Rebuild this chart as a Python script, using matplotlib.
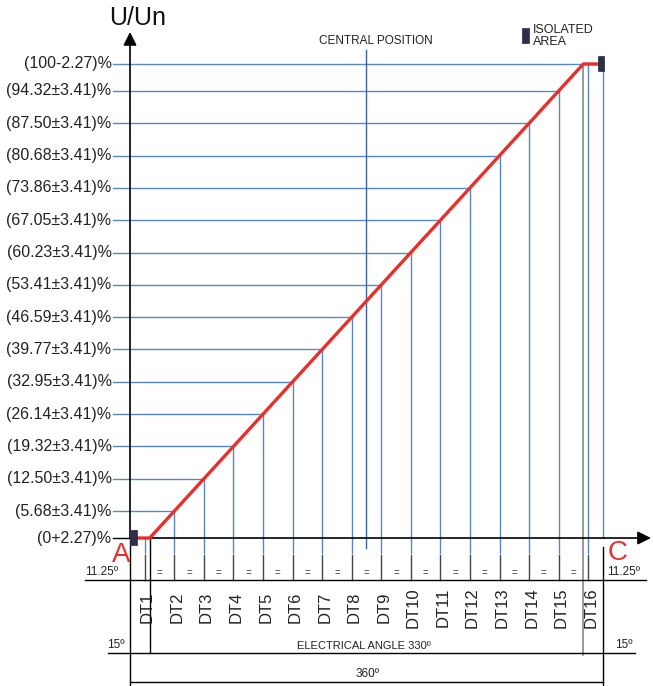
import matplotlib
matplotlib.use('Agg')
import matplotlib.pyplot as plt
import matplotlib.patches as patches

plt.rcParams['font.family'] = ['Liberation Sans', 'DejaVu Sans']

# data
level_values = [0, 5.68, 12.50, 19.32, 26.14, 32.95, 39.77, 46.59, 53.41,
                60.23, 67.05, 73.86, 80.68, 87.50, 94.32, 100]
level_labels = ['(0+2.27)%', '(5.68±3.41)%', '(12.50±3.41)%', '(19.32±3.41)%',
                '(26.14±3.41)%', '(32.95±3.41)%', '(39.77±3.41)%', '(46.59±3.41)%',
                '(53.41±3.41)%', '(60.23±3.41)%', '(67.05±3.41)%', '(73.86±3.41)%',
                '(80.68±3.41)%', '(87.50±3.41)%', '(94.32±3.41)%', '(100-2.27)%']
dt_labels = ['DT1', 'DT2', 'DT3', 'DT4', 'DT5', 'DT6', 'DT7', 'DT8', 'DT9',
             'DT10', 'DT11', 'DT12', 'DT13', 'DT14', 'DT15', 'DT16']
dt_angles = [11.25, 33.75, 56.25, 78.75, 101.25, 123.75, 146.25, 168.75, 191.25,
             213.75, 236.25, 258.75, 281.25, 303.75, 326.25, 348.75]
curve_angle = [0, 15, 345, 360]
curve_level = [0, 0, 100, 100]
total_angle = 360
dead_band = 15
central_angle = 180

BLUE = '#5a86c8'
RED = '#e8302a'

fig = plt.figure(figsize=(6.53, 6.86), dpi=100)
ax = fig.add_axes([0, 0, 1, 1])
ax.set_xlim(-98.94, 398.06)
ax.set_ylim(-31.22, 113.50)
ax.axis('off')

# layout (data units)
label_x = -13
y_gap = -3.2
y_tick_top = -3.6
y_dim1 = -8.86
y_dim2 = -24.26
y_dim3 = -30.38

# horizontal level lines and labels
for i, (v, lab) in enumerate(zip(level_values, level_labels)):
    ax.text(label_x - 1, v, lab, ha='right', va='center', fontsize=11.5, color='#222222')
    if i == 0:
        ax.plot([label_x, 0], [v, v], color='black', lw=1)
    elif i == len(level_values) - 1:
        ax.plot([label_x, total_angle], [v, v], color=BLUE, lw=1)
    else:
        ax.plot([label_x, dt_angles[i]], [v, v], color=BLUE, lw=1)

# vertical DT lines
for i, (a, lab) in enumerate(zip(dt_angles, dt_labels)):
    ax.plot([a, a], [level_values[i], y_gap], color=BLUE, lw=1)
    ax.plot([a, a], [y_tick_top, y_dim1], color='#444444', lw=1)
    ax.text(a + 2, -14.6, lab, rotation=90, ha='center', va='center', fontsize=12, color='#222222')

# "=" marks between DTs
for a0, a1 in zip(dt_angles[:-1], dt_angles[1:]):
    ax.text((a0 + a1) / 2, y_dim1 + 0.3, '=', ha='center', va='bottom', fontsize=7, color='#333333')

# right boundary and end lines
ax.plot([total_angle, total_angle], [100, 0], color=BLUE, lw=1)
ax.plot([total_angle, total_angle], [-2, y_dim3 - 1], color='black', lw=1)
ax.plot([total_angle - dead_band] * 2, [100, y_dim2 - 0.4], color='#888888', lw=1.2)
ax.plot([dead_band, dead_band], [0, y_dim2], color='black', lw=1)
ax.plot([0, 0], [0, y_dim3 - 1], color='black', lw=1)

# central position
ax.plot([central_angle, central_angle], [103.0, -2.1], color='#3a5fa8', lw=1)
ax.text(central_angle + 7, 104.9, 'CENTRAL POSITION', ha='center', va='center', fontsize=8.5, color='#222222')

# dimension lines
ax.plot([-34, 393], [y_dim1, y_dim1], color='black', lw=1)
ax.plot([-17, 384], [y_dim2, y_dim2], color='black', lw=1)
ax.plot([0, total_angle], [y_dim3, y_dim3], color='black', lw=1)
ax.text(-9, y_dim1 + 0.5, '11.25º', ha='right', va='bottom', fontsize=8.5, color='#222222')
ax.text(total_angle + 3, y_dim1 + 0.5, '11.25º', ha='left', va='bottom', fontsize=8.5, color='#222222')
ax.text(-4, y_dim2 + 0.4, '15º', ha='right', va='bottom', fontsize=8.5, color='#222222')
ax.text(total_angle + 9, y_dim2 + 0.4, '15º', ha='left', va='bottom', fontsize=8.5, color='#222222')
ax.text(178, y_dim2 + 0.4, 'ELECTRICAL ANGLE 330º', ha='center', va='bottom', fontsize=8, color='#222222')
ax.text(181, y_dim3 + 0.5, '360º', ha='center', va='bottom', fontsize=8.5, color='#222222')

# axes arrows
ax.annotate('', xy=(0, 106.75), xytext=(0, 0), arrowprops=dict(arrowstyle='-|>', color='black', lw=1.2, mutation_scale=20, shrinkA=0, shrinkB=0))
ax.annotate('', xy=(396.5, 0), xytext=(0, 0), arrowprops=dict(arrowstyle='-|>', color='black', lw=1.2, mutation_scale=20, shrinkA=0, shrinkB=0))
ax.text(6, 109.6, 'U/Un', ha='center', va='center', fontsize=18, color='#111111')

# characteristic
ax.plot(curve_angle, curve_level, color=RED, lw=2.4, solid_capstyle='butt', zorder=5)

# isolated areas
for (x0, y0) in [(0, -1.5), (total_angle - 4, 98.5)]:
    ax.add_patch(patches.Rectangle((x0, y0), 5, 3.1, facecolor='#2b2f4a', edgecolor='#2b2f4a', hatch='////', lw=0.5, zorder=6))
ax.add_patch(patches.Rectangle((298, 104.4), 5.5, 3.2, facecolor='#2b2f4a', edgecolor='#2b2f4a', hatch='////', lw=0.5, zorder=6))
ax.text(307, 105.9, 'ISOLATED\nAREA', ha='left', va='center', fontsize=9, color='#222222', linespacing=0.95)

ax.text(-7, -3.6, 'A', ha='center', va='center', fontsize=20, color=RED)
ax.text(total_angle + 11, -3.2, 'C', ha='center', va='center', fontsize=20, color=RED)

fig.savefig('out.png', dpi=100)
